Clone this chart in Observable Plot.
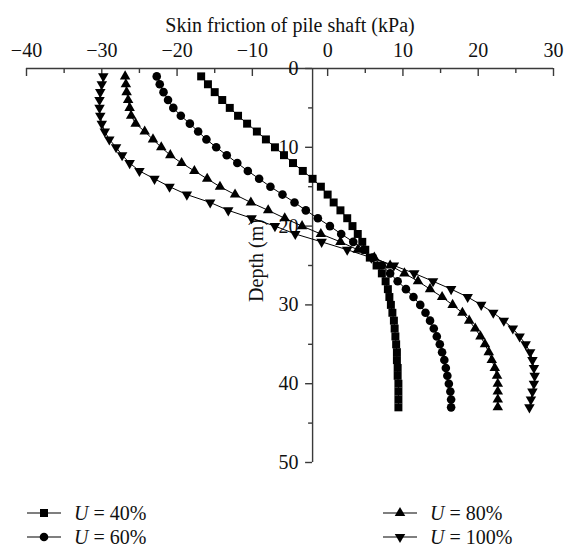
<!DOCTYPE html>
<html>
<head>
<meta charset="utf-8">
<script src="https://cdn.jsdelivr.net/npm/d3@7"></script>
<script src="https://cdn.jsdelivr.net/npm/@observablehq/plot@0.6"></script>
<style>
  html, body { margin: 0; padding: 0; background: #fff; }
  #wrap { position: relative; width: 565px; height: 550px; font-family: "Liberation Serif", "DejaVu Serif", serif; color: #111; }
  #wrap svg { display: block; }
  .leg { position: absolute; display: flex; align-items: center; height: 24px; font-size: 20px; white-space: nowrap; }
  .leg svg { margin-right: 12px; }
</style>
</head>
<body>
<div id="wrap"><div id="chart"></div></div>
<script>
// ---- data ----
const depth = [1,2,3,4,5,6,7,8,9,10,11,12,13,14,15,16,17,18,19,20,21,22,23,24,25,26,27,28,29,30,31,32,33,34,35,36,37,38,39,40,41,42,43];
const u40 = [-16.8,-15.9,-15.0,-14.0,-13.0,-11.9,-10.7,-9.4,-8.2,-7.0,-5.8,-4.6,-3.3,-2.0,-0.9,0.0,0.8,1.7,2.6,3.3,4.0,4.6,5.0,5.6,6.5,7.2,7.7,8.0,8.2,8.4,8.6,8.8,8.9,9.0,9.1,9.2,9.2,9.3,9.3,9.4,9.4,9.4,9.4];
const u60 = [-22.7,-22.3,-21.8,-21.2,-20.5,-19.5,-18.3,-17.2,-16.1,-14.8,-13.4,-12.0,-10.6,-9.1,-7.6,-6.0,-4.4,-2.9,-1.3,0.3,1.8,3.4,4.8,6.0,7.2,8.3,9.3,10.4,11.4,12.3,13.0,13.6,14.1,14.5,14.9,15.2,15.5,15.7,15.9,16.1,16.3,16.4,16.4];
const u80 = [-26.9,-26.8,-26.7,-26.5,-26.3,-26.1,-25.5,-24.3,-23.2,-22.1,-20.9,-19.4,-17.7,-16.0,-14.3,-12.3,-10.2,-7.9,-5.7,-3.4,-0.9,1.7,4.0,6.2,8.3,10.2,12.0,13.6,15.2,16.6,17.9,18.8,19.6,20.3,20.9,21.4,21.8,22.2,22.5,22.6,22.6,22.6,22.6];
const u100 = [-29.8,-30.0,-30.2,-30.3,-30.3,-30.2,-30.0,-29.6,-29.0,-28.1,-27.3,-26.3,-25.0,-23.0,-21.0,-18.7,-15.6,-13.2,-10.1,-7.0,-4.3,-0.8,2.6,5.8,8.8,11.5,14.0,16.4,18.6,20.4,22.0,23.4,24.6,25.5,26.3,26.9,27.2,27.4,27.5,27.4,27.2,27.0,26.8];
const seriesNames = ["U = 40%", "U = 60%", "U = 80%", "U = 100%"];
const seriesPercent = ["40%", "60%", "80%", "100%"];
const xTicksMajor = [-40,-30,-20,-10,0,10,20,30];
const xTickLabels = ["\u221240","\u221230","\u221220","\u221210","0","10","20","30"];
const xTicksMinor = [-35,-25,-15,-5,5,15,25];
const yTicksMajor = [0,10,20,30,40,50];
const yTickLabels = ["0","10","20","30","40","50"];
const yTicksMinor = [5,15,25,35,45];
const xDomain = [-40, 30];
const yDomain = [0, 50];
const yAxisAt = -2.0;   // the depth axis crosses the friction axis here in the original
const xTitle = "Skin friction of pile shaft (kPa)";
const yTitle = "Depth (m)";

// ---- symbols ----
const triangleDown = {
  draw(context, size) {
    const y = -Math.sqrt(size / (Math.sqrt(3) * 3));
    context.moveTo(0, -y * 2);
    context.lineTo(-Math.sqrt(3) * y, y);
    context.lineTo(Math.sqrt(3) * y, y);
    context.closePath();
  }
};
const symbols = [d3.symbolSquare, d3.symbolCircle, d3.symbolTriangle, triangleDown];
const radii = [4.5, 4.3, 3.9, 3.9];

const allValues = [u40, u60, u80, u100];
const series = allValues.map((vals, k) => depth.map((d, i) => ({s: seriesNames[k], d, v: vals[i]})));

const axisColor = "#3a3a3a";
const textColor = "#111";

const marks = [
  Plot.ruleY([yDomain[0]], {stroke: axisColor, strokeWidth: 1.4}),
  Plot.ruleX([yAxisAt], {stroke: axisColor, strokeWidth: 1.4}),
  Plot.ruleX(xTicksMajor, {x: d => d, y1: () => yDomain[0], y2: () => yDomain[0], insetBottom: -8, stroke: axisColor, strokeWidth: 1.4}),
  Plot.ruleX(xTicksMinor, {x: d => d, y1: () => yDomain[0], y2: () => yDomain[0], insetBottom: -5, stroke: axisColor, strokeWidth: 1.4}),
  Plot.text(xTicksMajor, {x: d => d, y: () => yDomain[0], text: (d, i) => xTickLabels[i], dy: -18, fontSize: 20, fill: textColor}),
  Plot.text([xTitle], {frameAnchor: "top", dy: -51, text: d => d, fontSize: 20, fill: textColor}),
  Plot.ruleY(yTicksMajor, {y: d => d, x1: () => yAxisAt, x2: () => yAxisAt, insetLeft: -7, stroke: axisColor, strokeWidth: 1.4}),
  Plot.ruleY(yTicksMinor, {y: d => d, x1: () => yAxisAt, x2: () => yAxisAt, insetLeft: -4, stroke: axisColor, strokeWidth: 1.4}),
  Plot.text(yTicksMajor, {y: d => d, x: () => yAxisAt, text: (d, i) => yTickLabels[i], textAnchor: "end", dx: -14, fontSize: 20, fill: textColor}),
  Plot.text([yTitle], {x: () => yAxisAt, frameAnchor: "middle", rotate: -90, dx: -56, dy: -5, text: d => d, fontSize: 20, fill: textColor})
];
series.forEach((rows, k) => {
  marks.push(Plot.line(rows, {x: "v", y: "d", stroke: "#000", strokeWidth: 1}));
});
series.forEach((rows, k) => {
  marks.push(Plot.dot(rows, {x: "v", y: "d", symbol: symbols[k], r: radii[k], fill: "#000", stroke: "none"}));
});

const chart = Plot.plot({
  width: 565,
  height: 490,
  marginLeft: 26,
  marginRight: 12,
  marginTop: 68,
  marginBottom: 28,
  style: {fontFamily: "'Liberation Serif', 'DejaVu Serif', serif", fontSize: "20px", background: "#fff", color: textColor, overflow: "visible"},
  x: {domain: xDomain, axis: null},
  y: {domain: yDomain, reverse: true, axis: null},
  marks
});
document.getElementById("chart").appendChild(chart);

// ---- legend ----
const wrap = document.getElementById("wrap");
const legPos = [
  {left: 26, top: 501}, {left: 26, top: 525},
  {left: 382, top: 501}, {left: 382, top: 525}
];
seriesPercent.forEach((p, k) => {
  const div = document.createElement("div");
  div.className = "leg";
  div.style.left = legPos[k].left + "px";
  div.style.top = legPos[k].top + "px";
  const svg = d3.create("svg").attr("width", 36).attr("height", 24);
  svg.append("line").attr("x1", 1).attr("x2", 35).attr("y1", 12).attr("y2", 12).attr("stroke", "#000").attr("stroke-width", 1.2);
  svg.append("path").attr("transform", "translate(18,12)")
    .attr("d", d3.symbol(symbols[k], Math.PI * radii[k] * radii[k])())
    .attr("fill", "#000");
  div.appendChild(svg.node());
  const span = document.createElement("span");
  span.innerHTML = "<i>U</i> = " + p;
  div.appendChild(span);
  wrap.appendChild(div);
});
</script>
</body>
</html>
